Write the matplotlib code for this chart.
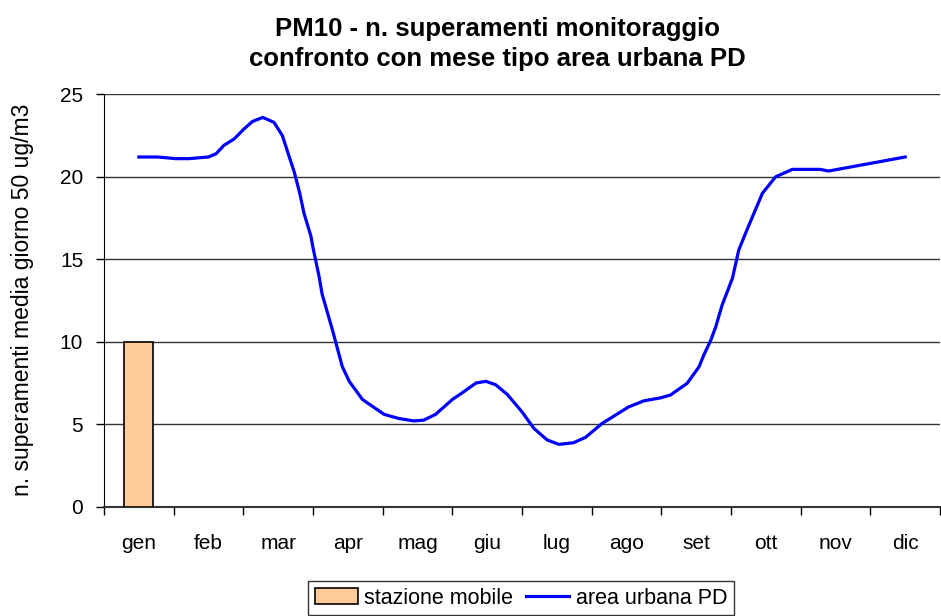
import matplotlib
matplotlib.use("Agg")
import matplotlib.pyplot as plt
from matplotlib.patches import Patch
from matplotlib.lines import Line2D
import numpy as np

plt.rcParams['font.family'] = ['Liberation Sans', 'DejaVu Sans']

months = ['gen', 'feb', 'mar', 'apr', 'mag', 'giu',
          'lug', 'ago', 'set', 'ott', 'nov', 'dic']

# stazione mobile: only january measured
bar_month = [0]
bar_values = [10]

# area urbana PD (x in month units, 0 = gen)
curve_x = [0.0, 0.27, 0.53, 0.72, 1.0, 1.11, 1.22, 1.37, 1.51, 1.63,
           1.78, 1.94, 2.06, 2.16, 2.23, 2.31, 2.37, 2.47, 2.50, 2.59,
           2.63, 2.78, 2.92, 3.02, 3.21, 3.52, 3.73, 3.95, 4.09, 4.26,
           4.50, 4.64, 4.84, 4.98, 5.12, 5.29, 5.50, 5.67, 5.86, 6.03,
           6.24, 6.41, 6.65, 6.84, 7.03, 7.25, 7.49, 7.63, 7.87, 8.04,
           8.11, 8.21, 8.28, 8.37, 8.52, 8.61, 8.73, 8.83, 8.95, 9.14,
           9.38, 9.78, 9.90, 11.0]
curve_y = [21.2, 21.2, 21.1, 21.1, 21.2, 21.4, 21.9, 22.3, 22.9, 23.35,
           23.6, 23.3, 22.5, 21.2, 20.3, 19.0, 17.8, 16.4, 15.7, 13.9,
           12.9, 10.7, 8.5, 7.6, 6.5, 5.6, 5.35, 5.2, 5.25, 5.6,
           6.5, 6.9, 7.5, 7.6, 7.4, 6.8, 5.75, 4.75, 4.05, 3.78,
           3.88, 4.2, 5.05, 5.55, 6.05, 6.42, 6.6, 6.77, 7.48, 8.48,
           9.2, 10.1, 10.9, 12.2, 13.85, 15.55, 16.8, 17.8, 19.0, 20.0,
           20.45, 20.45, 20.35, 21.2]

fig = plt.figure(figsize=(9.41, 6.16), dpi=100, facecolor='white')
ax = fig.add_axes([0.1105, 0.1774, 0.8885, 0.6695])

ax.bar(bar_month, bar_values, width=0.42, color='#FFCC99',
       edgecolor='black', linewidth=1.2, zorder=3)
ax.plot(curve_x, curve_y, color='#0000FF', linewidth=2.3, zorder=4,
        solid_joinstyle='round')

ax.set_xlim(-0.5, 11.5)
ax.set_ylim(0, 25)
ax.set_yticks(np.arange(0, 26, 5))
ax.set_xticks(np.arange(12))
ax.set_xticklabels(months)
ax.set_xticks(np.arange(-0.5, 12, 1), minor=True)
ax.tick_params(axis='x', which='major', length=0, pad=20, labelsize=15)
ax.tick_params(axis='x', which='minor', length=6, width=1, direction='out')
ax.tick_params(axis='y', length=6, width=1, pad=9, labelsize=15)

ax.yaxis.grid(True, color='#333333', linewidth=1)
ax.set_axisbelow(True)
for s in ['top', 'right']:
    ax.spines[s].set_visible(False)
ax.spines['left'].set_color('black')
ax.spines['bottom'].set_color('#333333')
ax.spines['bottom'].set_linewidth(1.5)

fig.text(0.529, 1 - 17 / 616, 'PM10 - n. superamenti monitoraggio\n'
         'confronto con mese tipo area urbana PD',
         ha='center', va='top', fontsize=18.5, fontweight='bold',
         linespacing=1.3)
fig.text(23 / 941, 1 - 300 / 616, 'n. superamenti media giorno 50 ug/m3',
         rotation=90, ha='center', va='center', fontsize=16.5)

handles = [Patch(facecolor='#FFCC99', edgecolor='black', linewidth=1.2),
           Line2D([], [], color='#0000FF', linewidth=2.3)]
leg = fig.legend(handles, ['stazione mobile', 'area urbana PD'],
                 loc='center', bbox_to_anchor=(521 / 941, 1 - 598 / 616),
                 ncol=2, fontsize=15.5, frameon=True, fancybox=False,
                 edgecolor='black', handlelength=2.0, handletextpad=0.3,
                 columnspacing=0.6, borderpad=0.3, borderaxespad=0)
leg.get_frame().set_linewidth(1)

fig.savefig('out.png', dpi=100, facecolor='white')
